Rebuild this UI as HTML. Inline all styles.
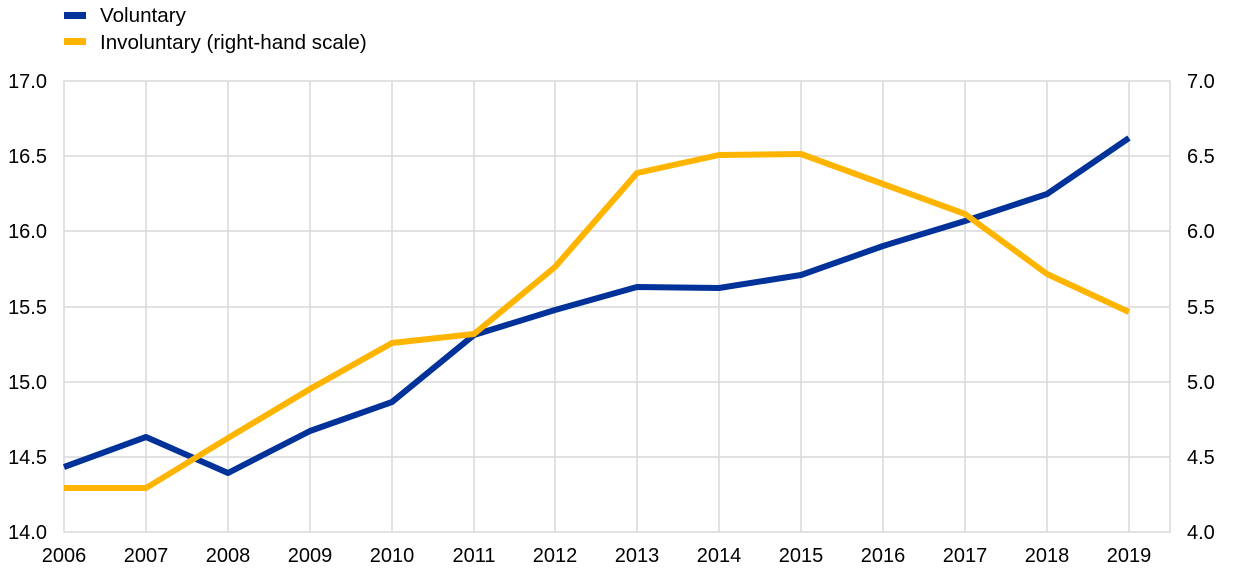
<!DOCTYPE html>
<html><head><style>body{margin:0;background:#fff}svg{display:block}text{font-family:"Liberation Sans",Arial,sans-serif;font-size:20px;fill:#000}.lg{font-size:20.6px}</style></head><body>
<svg width="1240" height="575" xmlns="http://www.w3.org/2000/svg">
<rect x="64" y="12" width="22" height="7" fill="#003299"/>
<text class="lg" x="100" y="22">Voluntary</text>
<rect x="64" y="38" width="22" height="7" fill="#FFB400"/>
<text class="lg" x="100" y="49">Involuntary (right-hand scale)</text>
<g stroke="#d9d9d9" stroke-width="1.5" fill="none">
<rect x="64" y="81" width="1106" height="451"/>
<line x1="64" x2="1170" y1="156" y2="156"/><line x1="64" x2="1170" y1="231" y2="231"/><line x1="64" x2="1170" y1="307" y2="307"/><line x1="64" x2="1170" y1="382" y2="382"/><line x1="64" x2="1170" y1="457" y2="457"/>
<line x1="146" x2="146" y1="81" y2="532"/><line x1="228" x2="228" y1="81" y2="532"/><line x1="310" x2="310" y1="81" y2="532"/><line x1="392" x2="392" y1="81" y2="532"/><line x1="474" x2="474" y1="81" y2="532"/><line x1="555" x2="555" y1="81" y2="532"/><line x1="637" x2="637" y1="81" y2="532"/><line x1="719" x2="719" y1="81" y2="532"/><line x1="801" x2="801" y1="81" y2="532"/><line x1="883" x2="883" y1="81" y2="532"/><line x1="965" x2="965" y1="81" y2="532"/><line x1="1047" x2="1047" y1="81" y2="532"/><line x1="1129" x2="1129" y1="81" y2="532"/>
</g>
<g text-anchor="end">
<text x="47" y="88">17.0</text><text x="47" y="163">16.5</text><text x="47" y="238">16.0</text><text x="47" y="314">15.5</text><text x="47" y="389">15.0</text><text x="47" y="464">14.5</text><text x="47" y="539">14.0</text>
</g>
<g text-anchor="start">
<text x="1187" y="88">7.0</text><text x="1187" y="163">6.5</text><text x="1187" y="238">6.0</text><text x="1187" y="314">5.5</text><text x="1187" y="389">5.0</text><text x="1187" y="464">4.5</text><text x="1187" y="539">4.0</text>
</g>
<g text-anchor="middle">
<text x="64" y="562">2006</text><text x="146" y="562">2007</text><text x="228" y="562">2008</text><text x="310" y="562">2009</text><text x="392" y="562">2010</text><text x="474" y="562">2011</text><text x="555" y="562">2012</text><text x="637" y="562">2013</text><text x="719" y="562">2014</text><text x="801" y="562">2015</text><text x="883" y="562">2016</text><text x="965" y="562">2017</text><text x="1047" y="562">2018</text><text x="1129" y="562">2019</text>
</g>
<polyline fill="none" stroke="#003299" stroke-width="6" stroke-linejoin="round" points="64,467 146,437 228,473 310,431 392,402 474,335 555,310 637,287 719,288 801,275 883,246 965,221 1047,194 1129,138"/>
<polyline fill="none" stroke="#FFB400" stroke-width="6" stroke-linejoin="round" points="64,488 146,488 228,438 310,389 392,343 474,334 555,267 637,173 719,155 801,154 883,184 965,214 1047,274 1129,312"/>
</svg>
</body></html>
